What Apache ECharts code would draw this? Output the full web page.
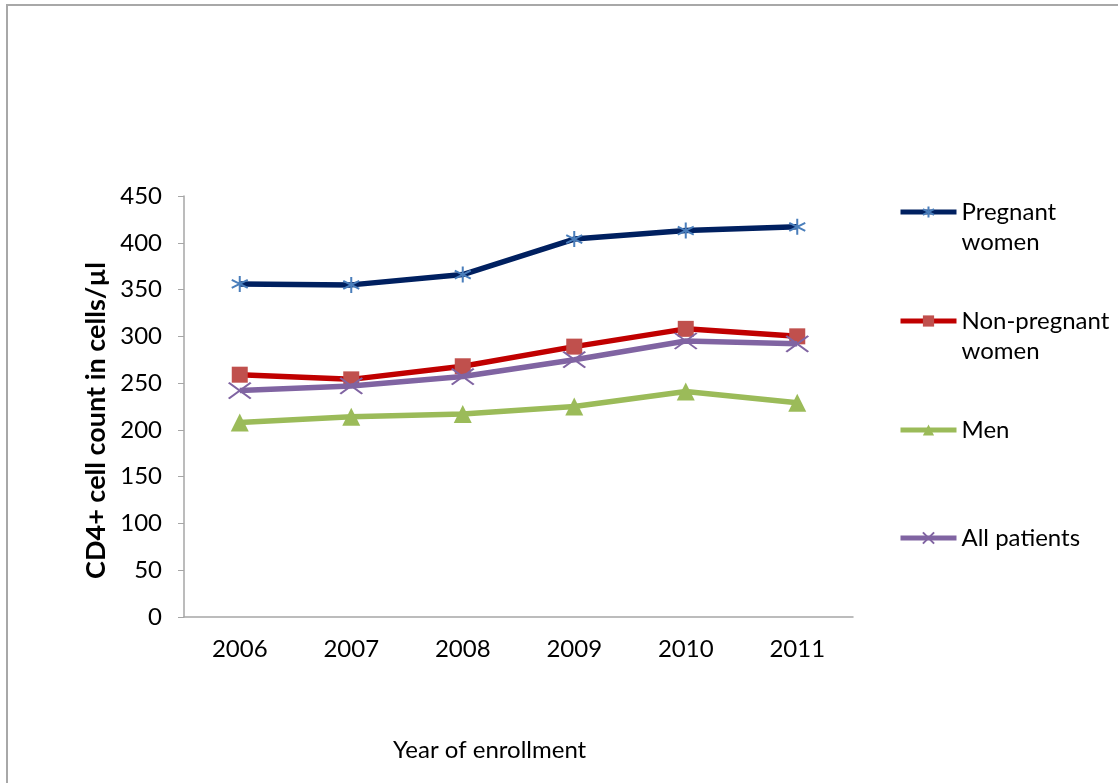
<!DOCTYPE html>
<html>
<head>
<meta charset="utf-8">
<script src="https://cdn.jsdelivr.net/npm/echarts@6/dist/echarts.min.js"></script>
<style>
  html, body { margin: 0; padding: 0; background: #fff; }
  #frame {
    position: absolute; left: 6px; top: 4px; width: 1112px; height: 779px;
    border-top: 2px solid #a8a8a8; border-left: 2px solid #a8a8a8;
  }
  #chart { position: absolute; left: 0; top: 0; width: 1118px; height: 783px; }
</style>
</head>
<body>
<div id="frame"></div>
<div id="chart"></div>
<script>
const years = ['2006', '2007', '2008', '2009', '2010', '2011'];
const pregnant = [356, 355, 366, 404, 413, 417];
const nonPregnant = [259, 254, 268, 289, 308, 300];
const men = [208, 214, 217, 225, 241, 229];
const allPatients = [242, 247, 257, 275, 295, 292];

const font = 'Lato, "Open Sans", sans-serif';
const axisGrey = '#a6a6a6';

// asterisk and X markers drawn as stroked paths
const starPath = 'path://M5 0 L5 10 M0.7 2.5 L9.3 7.5 M9.3 2.5 L0.7 7.5';
const crossPath = 'path://M0 0 L10 10 M10 0 L0 10';

const chart = echarts.init(document.getElementById('chart'));

// one legend per series so each can sit where the original puts it;
// two-line names get a blank first line so the icon lines up with "Pregnant"
function legendFor(name, top) {
  return {
    orient: 'vertical',
    left: 898,
    top: top,
    padding: 0,
    itemWidth: 56,
    itemHeight: 14,
    data: [name],
    selectedMode: false,
    lineStyle: { width: 5 },
    formatter: n => (n.indexOf('\n') >= 0 ? '\n' + n : n),
    textStyle: { fontFamily: font, fontSize: 24, color: '#000', lineHeight: 30 }
  };
}

const option = {
  backgroundColor: 'transparent',
  animation: false,
  title: {
    text: 'Year of enrollment',
    left: 388,
    top: 733,
    textStyle: { fontFamily: font, fontSize: 24, fontWeight: 'normal', color: '#000' }
  },
  legend: [
    legendFor('Pregnant\nwomen', 167),
    legendFor('Non-pregnant\nwomen', 276),
    legendFor('Men', 415),
    legendFor('All patients', 523)
  ],
  grid: { left: 184, right: 265, top: 196, bottom: 166 },
  xAxis: {
    type: 'category',
    data: years,
    boundaryGap: true,
    axisLine: { lineStyle: { color: axisGrey, width: 1.5 } },
    axisTick: { length: 7, lineStyle: { color: axisGrey } },
    axisLabel: { margin: 20, fontFamily: font, fontSize: 24, color: '#000' }
  },
  yAxis: {
    type: 'value',
    min: 0,
    max: 450,
    interval: 50,
    name: 'CD4+ cell count in cells/µl',
    nameLocation: 'middle',
    nameGap: 72,
    nameTextStyle: {
      fontFamily: font, fontSize: 27, fontWeight: 'bold', color: '#000',
      padding: [0, 28, 0, 0]
    },
    axisLine: { show: true, lineStyle: { color: axisGrey, width: 1.5 } },
    axisTick: { show: true, length: 6, lineStyle: { color: axisGrey } },
    axisLabel: { margin: 22, fontFamily: font, fontSize: 24, color: '#000' },
    splitLine: { show: false }
  },
  series: [
    {
      name: 'Pregnant\nwomen',
      type: 'line',
      data: pregnant,
      symbol: starPath,
      symbolSize: 16,
      lineStyle: { color: '#002060', width: 5.5 },
      itemStyle: { color: 'rgba(0,0,0,0)', borderColor: '#4a7ebb', borderWidth: 2 },
      z: 4
    },
    {
      name: 'Non-pregnant\nwomen',
      type: 'line',
      data: nonPregnant,
      symbol: 'rect',
      symbolSize: 16,
      lineStyle: { color: '#c00000', width: 5.5 },
      itemStyle: { color: '#c0504d' },
      z: 3
    },
    {
      name: 'Men',
      type: 'line',
      data: men,
      symbol: 'triangle',
      symbolSize: 18,
      lineStyle: { color: '#9bbb59', width: 5.5 },
      itemStyle: { color: '#9bbb59' },
      z: 2
    },
    {
      name: 'All patients',
      type: 'line',
      data: allPatients,
      symbol: crossPath,
      symbolSize: [22, 16],
      lineStyle: { color: '#8064a2', width: 5.5 },
      itemStyle: { color: 'rgba(0,0,0,0)', borderColor: '#8064a2', borderWidth: 2 },
      z: 5
    }
  ]
};

chart.setOption(option);
</script>
</body>
</html>
